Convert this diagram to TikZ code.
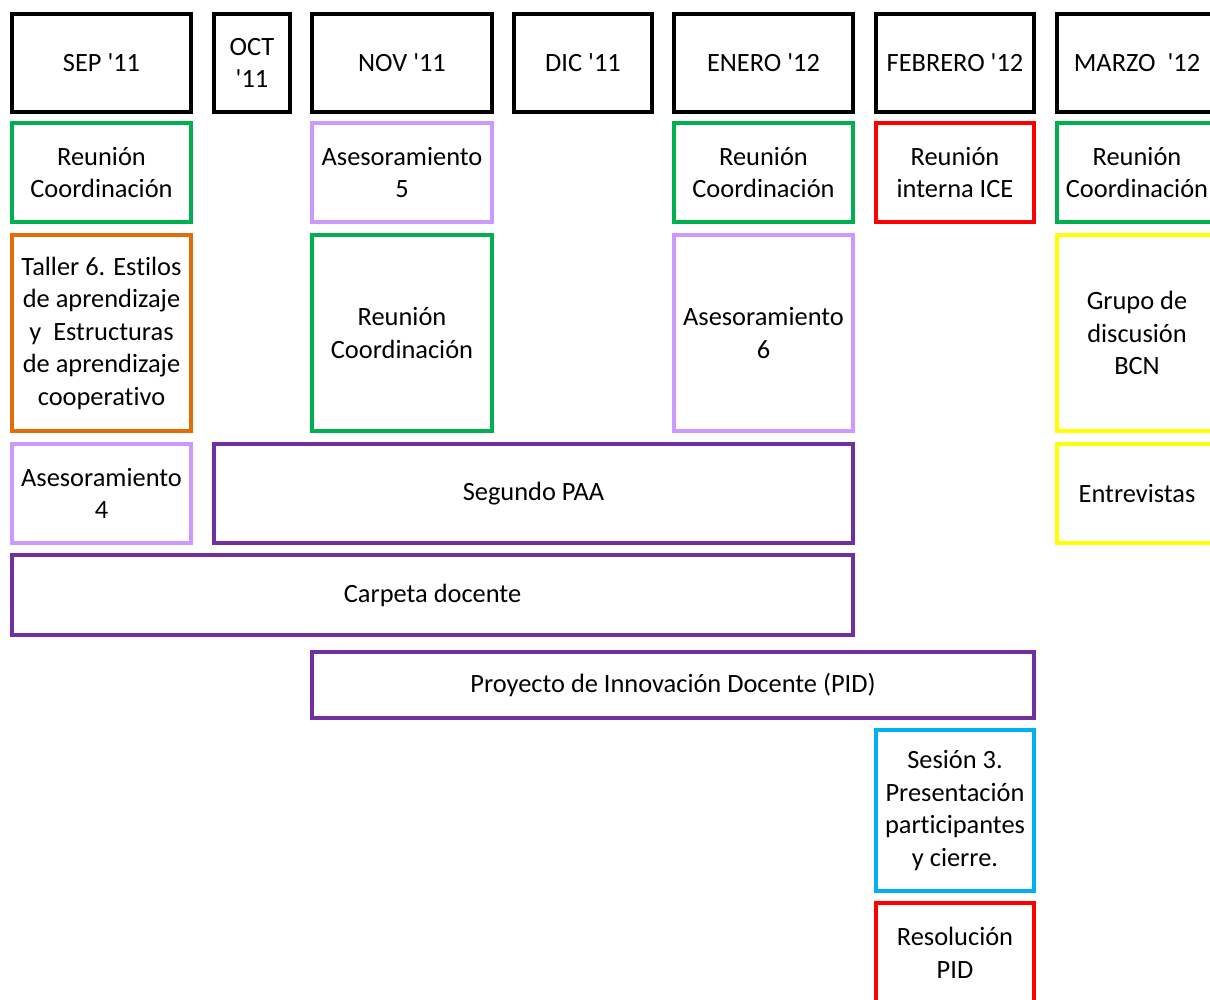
\documentclass[tikz,border=0pt]{standalone}
\usepackage{fontspec}
\setmainfont{Carlito}[Ligatures={TeXOff,CommonOff}]
\usetikzlibrary{positioning}
\definecolor{month}{HTML}{000000}
\definecolor{meeting}{HTML}{00B050}
\definecolor{advice}{HTML}{CC99FF}
\definecolor{workshop}{HTML}{E36C09}
\definecolor{task}{HTML}{7030A0}
\definecolor{internal}{HTML}{FF0000}
\definecolor{group}{HTML}{FFFF00}
\definecolor{session}{HTML}{00B0F0}
\tikzset{
  every node/.style={font=\fontsize{26.4}{32.5}\selectfont,text=black},
  box/.style={draw,line width=4pt,inner sep=0pt,align=center},
  monthbox/.style={box,draw=month,minimum height=98pt},
  rowtwo/.style={box,minimum height=99pt},
  rowthree/.style={box,minimum height=196pt}}

\begin{document}
\begin{tikzpicture}[x=1pt,y=-1pt]
\useasboundingbox (0,0) rectangle (1210,999);
% month headers
\node[monthbox,minimum width=179pt] (sep) at (101.5,63) {SEP '11};
\node[monthbox,minimum width=76pt] (oct) at (252,63) {OCT\\'11};
\node[monthbox,minimum width=180pt] (nov) at (402,63) {NOV '11};
\node[monthbox,minimum width=138pt] (dic) at (583,63) {DIC '11};
\node[monthbox,minimum width=179pt] (ene) at (763.5,63) {ENERO '12};
\node[monthbox,minimum width=158pt] (feb) at (955,63) {FEBRERO '12};
\node[monthbox,minimum width=160pt] (mar) at (1137,63) {MARZO~ '12};
% second row
\node[rowtwo,draw=meeting,minimum width=179pt] (sepreu) at (101.5,172.5) {Reunión\\Coordinación};
\node[rowtwo,draw=advice,minimum width=180pt] (novase) at (402,172.5) {Asesoramiento\\5};
\node[rowtwo,draw=meeting,minimum width=179pt] (enereu) at (763.5,172.5) {Reunión\\Coordinación};
\node[rowtwo,draw=internal,minimum width=158pt] (febreu) at (955,172.5) {Reunión\\interna ICE};
\node[rowtwo,draw=meeting,minimum width=160pt] (marreu) at (1137,172.5) {Reunión\\Coordinación};
% third row
\node[rowthree,draw=workshop,minimum width=179pt] (taller) at (101.5,333) {Taller 6. Estilos\\de aprendizaje\\y~ Estructuras\\de aprendizaje\\cooperativo};
\node[rowthree,draw=meeting,minimum width=180pt] (novreu) at (402,333) {Reunión\\Coordinación};
\node[rowthree,draw=advice,minimum width=179pt] (enease) at (763.5,333) {Asesoramiento\\6};
\node[rowthree,draw=group,minimum width=160pt] (grupo) at (1137,333) {Grupo de\\discusión\\BCN};
% long activities
\node[rowtwo,draw=advice,minimum width=179pt] (sepase) at (101.5,493.5) {Asesoramiento\\4};
\node[rowtwo,draw=task,minimum width=639pt] (paa) at (533.5,493.5) {Segundo PAA};
\node[rowtwo,draw=group,minimum width=160pt] (entrev) at (1137,493.5) {Entrevistas};
\node[box,draw=task,minimum width=841pt,minimum height=80pt] (carpeta) at (432.5,595) {Carpeta docente};
\node[box,draw=task,minimum width=722pt,minimum height=66pt] (pid) at (673,685) {Proyecto de Innovación Docente (PID)};
\node[box,draw=session,minimum width=158pt,minimum height=161pt] (sesion) at (955,810.5) {Sesión 3.\\Presentación\\participantes\\y cierre.};
\node[box,draw=internal,minimum width=158pt,minimum height=100pt] (resol) at (955,953) {Resolución\\PID};
\end{tikzpicture}
\end{document}
